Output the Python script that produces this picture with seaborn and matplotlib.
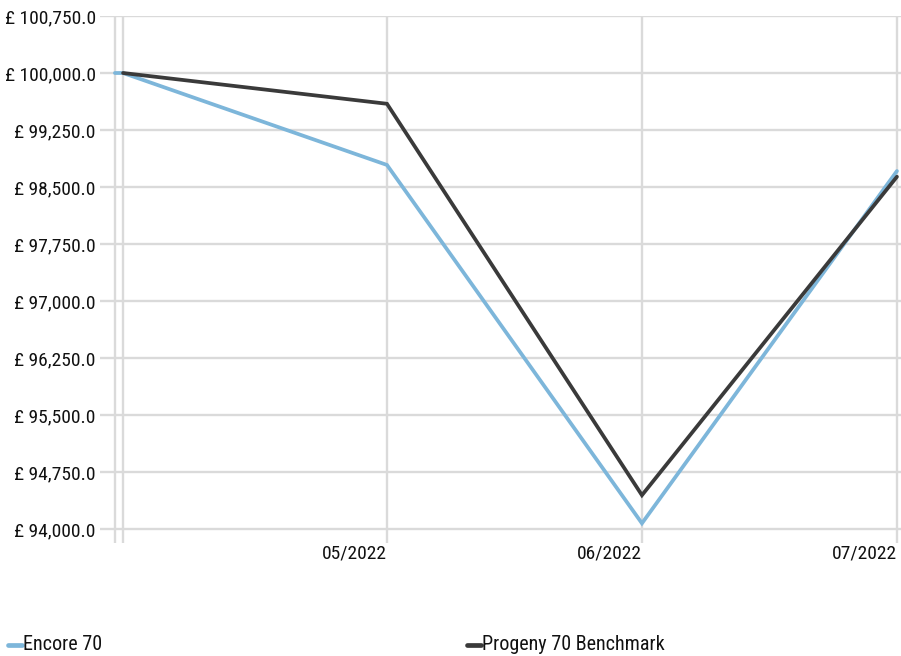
import matplotlib
matplotlib.use("Agg")
import matplotlib.pyplot as plt
import matplotlib.ticker as mticker
from matplotlib import font_manager
import seaborn as sns
import pandas as pd

# Period positions along the x axis (month index, 1 = 05/2022)
periods = [-0.067, -0.035, 1.0, 2.0, 3.0]
tick_positions = [1.0, 2.0, 3.0]
tick_labels = ["05/2022", "06/2022", "07/2022"]

encore_70 = [100000.0, 100000.0, 98790.0, 94075.0, 98710.0]
benchmark_periods = [-0.035, 1.0, 2.0, 3.0]
progeny_70_benchmark = [100000.0, 99595.0, 94445.0, 98635.0]

series_names = ["Encore 70", "Progeny 70 Benchmark"]
series_colors = ["#7db6da", "#3a3a3a"]

df = pd.concat([
    pd.DataFrame({"period": periods, "value": encore_70, "series": series_names[0]}),
    pd.DataFrame({"period": benchmark_periods, "value": progeny_70_benchmark,
                  "series": series_names[1]}),
])

sns.set_theme(style="white")

# Prefer a narrow face when one is installed
installed = {f.name for f in font_manager.fontManager.ttflist}
narrow_candidates = ["Roboto Condensed", "Liberation Sans Narrow", "Open Sans Condensed",
                     "Arial Narrow", "DejaVu Sans"]
family = [n for n in narrow_candidates if n in installed] or ["DejaVu Sans"]
plt.rcParams["font.family"] = family
plt.rcParams["font.stretch"] = "condensed"
condensed = family[0] == "DejaVu Sans"
tick_size = 12 if condensed else 14
legend_size = 12.5 if condensed else 14.5

fig = plt.figure(figsize=(9.01, 6.56), dpi=100)
ax = fig.add_axes([100 / 901, 1 - 543 / 656, 801 / 901, 527 / 656])

sns.lineplot(data=df, x="period", y="value", hue="series",
             palette=dict(zip(series_names, series_colors)),
             linewidth=2.7, ax=ax, legend=False, sort=False,
             solid_joinstyle="miter")

grid_kw = dict(color="#dadada", linewidth=1.7, zorder=0)
for p in periods:
    ax.axvline(p, **grid_kw)
yticks = [94000 + 750 * i for i in range(10)]
for v in yticks:
    ax.axhline(v, **grid_kw)

ax.set_xlim(-0.1255, 3.016)
ax.set_ylim(93816, 100750)
ax.set_yticks(yticks)
ax.yaxis.set_major_formatter(mticker.FuncFormatter(lambda v, _: f"£ {v:,.1f}"))
ax.set_xticks(tick_positions)
ax.set_xticklabels(tick_labels, ha="right")
ax.tick_params(axis="both", length=0, labelsize=tick_size, colors="#111111")
ax.tick_params(axis="y", pad=3)
ax.tick_params(axis="x", pad=1)
ax.set_xlabel("")
ax.set_ylabel("")
for s in ax.spines.values():
    s.set_visible(False)

# Legend entries along the bottom
legend_y = 1 - 645 / 656
for name, color, x0 in zip(series_names, series_colors, [8 / 901, 467 / 901]):
    fig.add_artist(plt.Line2D([x0, x0 + 14 / 901], [legend_y, legend_y],
                              color=color, linewidth=3.4, transform=fig.transFigure))
    fig.text(x0 + 15 / 901, legend_y, name, fontsize=legend_size, va="center",
             ha="left", color="#111111")

fig.savefig("out.png", dpi=100)
